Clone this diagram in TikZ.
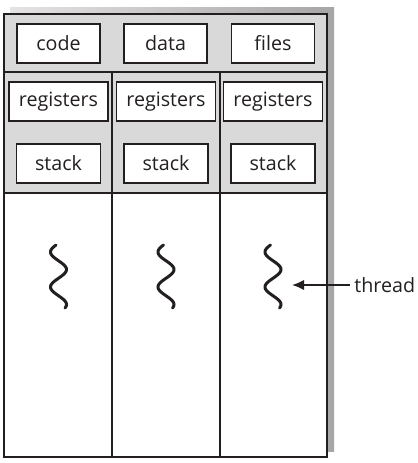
\documentclass[tikz,border=0pt]{standalone}
\usepackage{fontspec}
\setsansfont{Open Sans}
\usepackage{xcolor}
\usepackage{tikz}
\usetikzlibrary{arrows.meta,positioning}
\definecolor{thInk}{HTML}{231F20}
\definecolor{thWash}{HTML}{D9D9D9}
\definecolor{thShadeA}{HTML}{E4E4E4}
\definecolor{thShadeB}{HTML}{A6A6A6}
\tikzset{
  th diagram/.style={x=0.02cm, y=-0.02cm, font=\sffamily\fontsize{11.2}{13.5}\selectfont,
    text=thInk, line join=miter},
  th frame/.style={draw=thInk, line width=1.3pt},
  th rule/.style={draw=thInk, line width=1pt},
  th box/.style={draw=thInk, fill=white, line width=1pt, inner sep=0pt,
    minimum height=0.78cm},
  th shared/.style={th box, minimum width=1.66cm},
  th regs/.style={th box, minimum width=1.98cm},
  th stack/.style={th box, minimum width=1.68cm},
  th thread/.style={draw=thInk, line width=1.7pt, line cap=round},
  th arrow/.style={-{Latex[length=2.4mm,width=2.1mm]}, draw=thInk, line width=1.2pt},
  th label/.style={inner sep=2.3pt, anchor=west}
}
\begin{document}
\begin{tikzpicture}[th diagram]
\useasboundingbox (0,0) rectangle (418,463);
% drop shadow and process frame
\shade[left color=thShadeA, right color=thShadeB] (10,7) rectangle (334,451);
\fill[white] (4,14) rectangle (327,457);
\fill[thWash] (4,14) rectangle (327,193);
\draw[th rule] (4,72) -- (327,72);
\draw[th rule] (4,193) -- (327,193);
\draw[th rule] (112,72) -- (112,457);
\draw[th rule] (220,72) -- (220,457);
\draw[th frame] (4,14) rectangle (327,457);
% shared by all threads
\node[th shared] (code) at (58.5,43.5) {code};
\node[th shared] (data) at (165.5,43.5) {data};
\node[th shared] (files) at (273,43.5) {files};
% one column per thread
\foreach \i/\cx in {1/58.5, 2/166, 3/273}{
  \node[th regs] (regs\i) at (\cx,101.5) {registers};
  \node[th stack] (stack\i) at (\cx,163.5) {stack};
  \draw[th thread] plot[domain=245:308, samples=70, smooth]
    ({\cx - 8*cos(10.2857*(\x-252))}, \x);
}
\coordinate (tip) at (292,285);
\node[th label] (thread) at (350,285) {thread};
\draw[th arrow] (thread.west) -- (tip);
\end{tikzpicture}
\end{document}
